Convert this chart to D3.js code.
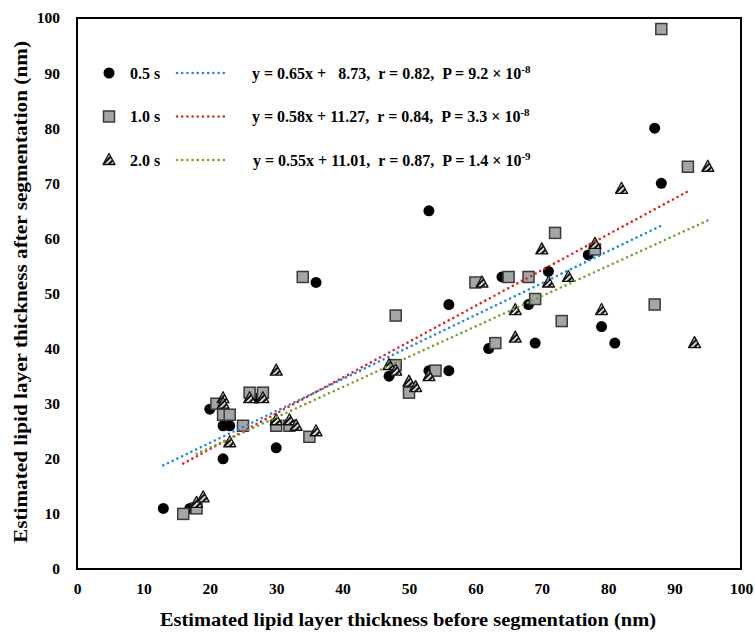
<!DOCTYPE html>
<html>
<head>
<meta charset="utf-8">
<script src="https://cdn.jsdelivr.net/npm/d3@7"></script>
<style>
  body { margin: 0; background: #fff; }
  svg { font-family: "Liberation Serif", "DejaVu Serif", serif; font-weight: bold; }
</style>
</head>
<body>
<div id="chart"></div>
<script>
// data (nm)
const x05 = [13, 17, 20, 22, 23, 22, 27, 30, 36, 47, 53, 53, 56, 56, 62, 64, 68, 69, 71, 77, 79, 81, 87, 88];
const y05 = [11, 11, 29, 26, 26, 20, 31, 22, 52, 35, 65, 36, 48, 36, 40, 53, 48, 41, 54, 57, 44, 41, 80, 70];

const x10 = [16, 18, 21, 22, 23, 25, 26, 28, 30, 32, 35, 34, 48, 48, 50, 54, 60, 63, 65, 68, 69, 72, 73, 78, 87, 88, 92];
const y10 = [10, 11, 30, 28, 28, 26, 32, 32, 26, 26, 24, 53, 46, 37, 32, 36, 52, 41, 53, 53, 49, 61, 45, 58, 48, 98, 73];

const x20 = [18, 19, 22, 22, 23, 26, 28, 30, 30, 32, 33, 36, 47, 48, 50, 51, 53, 61, 66, 66, 70, 71, 74, 78, 79, 82, 93, 95];
const y20 = [12, 13, 31, 30, 23, 31, 31, 36, 27, 27, 26, 25, 37, 36, 34, 33, 35, 52, 47, 42, 58, 52, 53, 59, 47, 69, 41, 73];

const seriesNames = ["0.5 s", "1.0 s", "2.0 s"];
// trend lines as drawn in the picture
const fitSlope = [0.58, 0.65, 0.55];
const fitIntercept = [11.27, 8.73, 11.01];
const eqText = ["y = 0.65x +   8.73,  r = 0.82,  P = 9.2 \u00d7 10", "y = 0.58x + 11.27,  r = 0.84,  P = 3.3 \u00d7 10", "y = 0.55x + 11.01,  r = 0.87,  P = 1.4 \u00d7 10"];
const eqExp = ["-8", "-8", "-9"];

const xTicks = d3.range(0, 101, 10);
const yTicks = d3.range(0, 101, 10);

const width = 755, height = 635;
const margin = { top: 18, right: 14, bottom: 66, left: 77 };
const lineColors = ["#1f86dc", "#e0201c", "#75a031"];

const svg = d3.select("#chart").append("svg")
  .attr("width", width)
  .attr("height", height);

const defs = svg.append("defs");
const pat = defs.append("pattern")
  .attr("id", "hatch")
  .attr("patternUnits", "userSpaceOnUse")
  .attr("width", 4).attr("height", 4)
  .attr("patternTransform", "rotate(45)");
pat.append("rect").attr("width", 4).attr("height", 4).attr("fill", "#111");
pat.append("rect").attr("x", 0).attr("width", 1.6).attr("height", 4).attr("fill", "#fff");

const x = d3.scaleLinear().domain([0, 100]).range([margin.left, width - margin.right]);
const y = d3.scaleLinear().domain([0, 100]).range([height - margin.bottom, margin.top]);

// frame
svg.append("rect")
  .attr("x", x(0)).attr("y", y(100))
  .attr("width", x(100) - x(0)).attr("height", y(0) - y(100))
  .attr("fill", "none").attr("stroke", "#000").attr("stroke-width", 2);

const xAxis = g => g
  .attr("transform", `translate(0, ${y(0)})`)
  .call(d3.axisBottom(x).tickValues(xTicks).tickSize(0).tickPadding(14))
  .call(g => g.select(".domain").remove())
  .attr("font-size", 15.5).attr("font-family", null).attr("font-weight", "bold");

const yAxis = g => g
  .attr("transform", `translate(${x(0)}, 0)`)
  .call(d3.axisLeft(y).tickValues(yTicks).tickSize(0).tickPadding(17))
  .call(g => g.select(".domain").remove())
  .attr("font-size", 15.5).attr("font-family", null).attr("font-weight", "bold");

svg.append("g").call(xAxis);
svg.append("g").call(yAxis);

svg.append("text")
  .attr("x", 408).attr("y", 626)
  .attr("text-anchor", "middle").attr("font-size", 18.5)
  .attr("textLength", 496).attr("lengthAdjust", "spacingAndGlyphs")
  .text("Estimated lipid layer thickness before segmentation (nm)");

svg.append("text")
  .attr("transform", `translate(27, 292) rotate(-90)`)
  .attr("text-anchor", "middle").attr("font-size", 18.5)
  .attr("textLength", 502).attr("lengthAdjust", "spacingAndGlyphs")
  .text("Estimated lipid layer thickness after segmentation (nm)");

// markers
const pts = (xs, ys) => xs.map((v, i) => ({ x: v, y: ys[i] }));

const drawCircle = (sel) => sel.append("circle").attr("r", 5.5).attr("fill", "#000");
const drawSquare = (sel) => sel.append("rect")
  .attr("x", -5.5).attr("y", -5.5).attr("width", 11).attr("height", 11)
  .attr("fill", "#a5a5a5").attr("stroke", "#3a3a3a").attr("stroke-width", 1.5);
const drawTri = (sel) => sel.append("path")
  .attr("d", "M0,-6.5L6,4.5L-6,4.5Z")
  .attr("fill", "url(#hatch)").attr("stroke", "#111").attr("stroke-width", 1.3)
  .attr("stroke-linejoin", "round");
const drawers = [drawCircle, drawSquare, drawTri];

const data = [pts(x05, y05), pts(x10, y10), pts(x20, y20)];

data.forEach((d, k) => {
  svg.append("g")
    .selectAll("g")
    .data(d)
    .join("g")
      .attr("transform", p => `translate(${x(p.x)}, ${y(p.y)})`)
      .call(drawers[k]);
});

// trend lines over the range of each series
data.forEach((d, k) => {
  const [lo, hi] = d3.extent(d, p => p.x);
  svg.append("line")
    .attr("x1", x(lo)).attr("y1", y(fitSlope[k] * lo + fitIntercept[k]))
    .attr("x2", x(hi)).attr("y2", y(fitSlope[k] * hi + fitIntercept[k]))
    .attr("stroke", lineColors[k]).attr("stroke-width", 2.6)
    .attr("stroke-linecap", "round").attr("stroke-dasharray", "0,5.2");
});

// legend
const legend = svg.append("g");
seriesNames.forEach((name, k) => {
  const ly = 73 + k * 43.5;
  const mk = legend.append("g").attr("transform", `translate(109, ${ly})`);
  drawers[k](mk);
  legend.append("text").attr("x", 130).attr("y", ly + 5.5).attr("font-size", 16).text(name);
  legend.append("line")
    .attr("x1", 177).attr("x2", 226).attr("y1", ly).attr("y2", ly)
    .attr("stroke", lineColors[k]).attr("stroke-width", 2.6)
    .attr("stroke-linecap", "round").attr("stroke-dasharray", "0,5.2");
  const t = legend.append("text")
    .attr("x", k === 2 ? 253 : 252).attr("y", ly + 5.5).attr("font-size", 16)
    .attr("xml:space", "preserve").style("white-space", "pre");
  t.append("tspan").text(eqText[k]);
  t.append("tspan").attr("dy", -6).attr("font-size", 11).text(eqExp[k]);
});
</script>
</body>
</html>
